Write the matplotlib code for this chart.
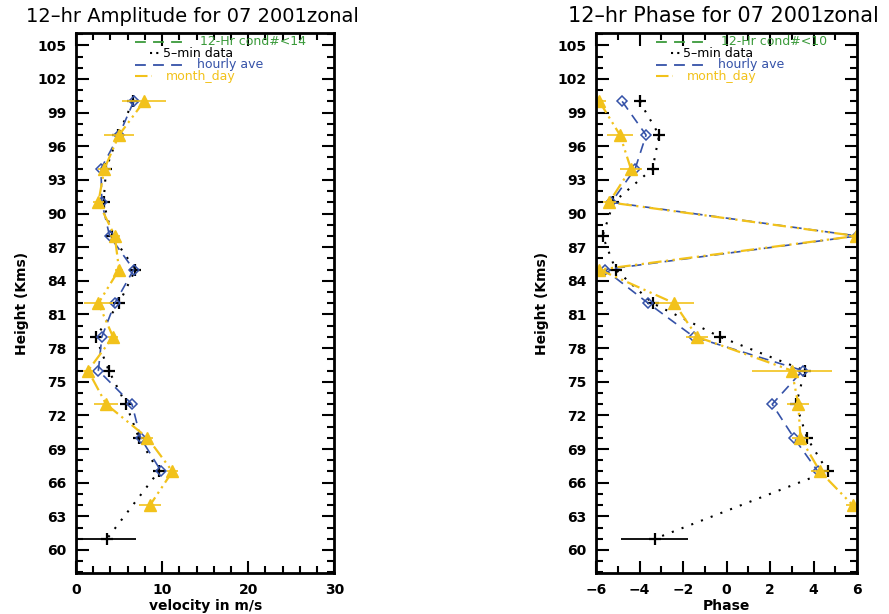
import numpy as np
import matplotlib
matplotlib.use("Agg")
import matplotlib.pyplot as plt
from matplotlib.ticker import MultipleLocator

# heights (km)
h_5min = [100, 97, 94, 91, 88, 85, 82, 79, 76, 73, 70, 67, 61]
h_hourly = [100, 97, 94, 91, 88, 85, 82, 79, 76, 73, 70, 67]
h_md = [100, 97, 94, 91, 88, 85, 82, 79, 76, 73, 70, 67, 64]

# 12-hr amplitude (m/s)
amp_5min = [6.6, 4.9, 3.5, 3.2, 4.2, 6.9, 5.0, 2.3, 3.8, 5.8, 7.3, 9.6, 3.6]
amp_5min_err = [0, 0, 0, 0, 0, 0, 0, 0, 0, 0, 0, 0, 3.4]
amp_hourly = [6.7, 5.0, 2.9, 3.0, 3.9, 6.7, 4.5, 3.0, 2.6, 6.5, 7.5, 9.9]
amp_md = [7.9, 5.0, 3.3, 2.6, 4.5, 5.0, 2.6, 4.3, 1.4, 3.5, 8.3, 11.2, 8.6]
amp_md_err = [2.5, 1.7, 0.8, 0.6, 0.6, 0.5, 1.7, 0.6, 0.6, 1.4, 0.7, 0.6, 1.3]

# 12-hr phase (hours)
ph_5min = [-4.0, -3.1, -3.4, -5.2, -5.7, -5.1, -3.4, -0.3, 3.6, 3.2, 3.7, 4.65, -3.3]
ph_5min_err = [0, 0, 0, 0, 0, 0, 0, 0, 0, 0, 0, 0, 1.55]
ph_hourly = [-4.8, -3.7, -4.2, -5.3, 6.0, -5.6, -3.6, -1.5, 3.5, 2.1, 3.1, 4.2]
ph_md = [-5.85, -4.9, -4.4, -5.4, 5.95, -5.85, -2.4, -1.35, 3.0, 3.3, 3.4, 4.3, 5.8]
ph_md_err = [0.3, 0.6, 0.5, 0.3, 0.3, 0.3, 0.9, 0.5, 1.85, 0.5, 0.4, 0.4, 0.3]

YEL = '#f2c21b'
BLU = '#3552a8'
GRN = '#3a9a3a'

plt.rcParams["font.family"] = "DejaVu Sans"

fig = plt.figure(figsize=(8.89, 6.14), dpi=100)


def draw_panel(ax, x5, x5err, xh, xm, xmerr, title, tsize, tx, xlabel, cond):
    ax.plot(x5, h_5min, color='black', linestyle=(0, (1, 4)), lw=1.5,
            marker='+', markersize=9, markeredgewidth=1.6)
    ax.errorbar(x5, h_5min, xerr=x5err, fmt='none', ecolor='black', lw=1.3)
    ax.plot(xh, h_hourly, color=BLU, linestyle=(0, (6, 4)), lw=1.2,
            marker='D', markersize=5, markerfacecolor='none',
            markeredgecolor=BLU, markeredgewidth=1.1)
    ax.errorbar(xm, h_md, xerr=xmerr, fmt='none', ecolor=YEL, lw=1.2)
    ax.plot(xm, h_md, color=YEL, linestyle=(0, (6, 2, 1, 2, 1, 2)), lw=1.6,
            marker='^', markersize=8.5, markerfacecolor=YEL,
            markeredgecolor=YEL)

    ax.set_ylim(57.95, 106.1)
    ax.yaxis.set_major_locator(MultipleLocator(3))
    ax.yaxis.set_minor_locator(MultipleLocator(1))
    ax.tick_params(which='both', direction='in', top=True, right=True,
                   width=1.5, labelsize=10)
    ax.tick_params(which='major', length=9, pad=7)
    ax.tick_params(which='minor', length=5)
    for s in ax.spines.values():
        s.set_linewidth(2)

    ax.set_title(title, fontsize=tsize, pad=8, x=tx)
    ax.set_xlabel(xlabel, fontsize=10, fontweight='bold', labelpad=2)
    ax.set_ylabel('Height (Kms)', fontsize=10, fontweight='bold', labelpad=6)

    # legend in the IDL style, text in line colour
    tr = ax.transAxes
    ys = [0.984, 0.9625, 0.941, 0.9195]
    ax.plot([0.229, 0.415], [ys[0], ys[0]], transform=tr, color=GRN,
            linestyle=(0, (6, 4)), lw=1.3, clip_on=False)
    ax.text(0.48, ys[0], '12-Hr cond#<' + cond, transform=tr, color=GRN,
            fontsize=9, va='center', ha='left')
    ax.plot([0.287, 0.33], [ys[1], ys[1]], transform=tr, color='black',
            linestyle=(0, (1, 2)), lw=1.5)
    ax.text(0.335, ys[1], '5\u2013min data', transform=tr, color='black',
            fontsize=9, va='center', ha='left')
    ax.plot([0.229, 0.415], [ys[2], ys[2]], transform=tr, color=BLU,
            linestyle=(0, (6, 4)), lw=1.3)
    ax.text(0.469, ys[2], 'hourly ave', transform=tr, color=BLU,
            fontsize=9, va='center', ha='left')
    ax.plot([0.229, 0.295], [ys[3], ys[3]], transform=tr, color=YEL,
            linestyle=(0, (6, 2, 1, 2, 1, 2)), lw=1.5)
    ax.text(0.349, ys[3], 'month_day', transform=tr, color=YEL,
            fontsize=9, va='center', ha='left')


ax1 = fig.add_axes([0.0855, 0.0668, 0.2905, 0.8795])
draw_panel(ax1, amp_5min, amp_5min_err, amp_hourly, amp_md, amp_md_err,
           '12\u2013hr Amplitude for 07 2001zonal', 14, 0.45,
           'velocity in m/s', '14')
ax1.set_xlim(0, 30)
ax1.xaxis.set_major_locator(MultipleLocator(10))
ax1.xaxis.set_minor_locator(MultipleLocator(2))

ax2 = fig.add_axes([0.6705, 0.0668, 0.2935, 0.8795])
draw_panel(ax2, ph_5min, ph_5min_err, ph_hourly, ph_md, ph_md_err,
           '12\u2013hr Phase for 07 2001zonal', 15, 0.49, 'Phase', '10')
ax2.set_xlim(-6, 6)
ax2.xaxis.set_major_locator(MultipleLocator(2))
ax2.xaxis.set_minor_locator(MultipleLocator(1))

for ax in (ax1, ax2):
    for lab in ax.get_xticklabels() + ax.get_yticklabels():
        lab.set_fontweight('bold')

fig.savefig('out.png', dpi=100)
